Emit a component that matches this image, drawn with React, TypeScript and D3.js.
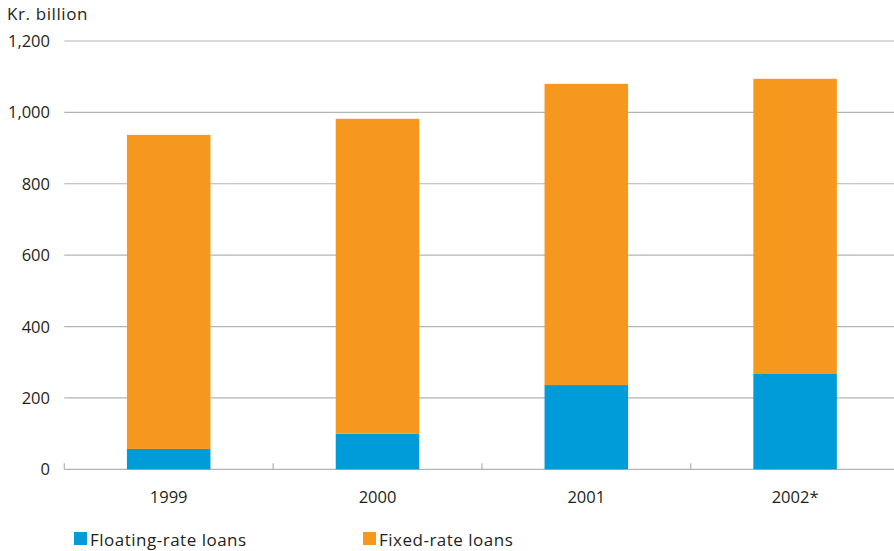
import React, { useEffect, useRef } from "react";
import * as d3 from "d3";

const years = ["1999", "2000", "2001", "2002*"];
const floatingRate = [57, 100, 236, 267];
const fixedRate = [880, 882, 844, 827];
const yTicks = [0, 200, 400, 600, 800, 1000, 1200];
const seriesNames = ["Floating-rate loans", "Fixed-rate loans"];
const seriesColors = ["#009bd9", "#f7981e"];

const W = 894;
const H = 551;
const FONT = "'Open Sans', 'Noto Sans', sans-serif";
const TEXT = "#231f20";

export default function App() {
  const ref = useRef<SVGSVGElement>(null);

  useEffect(() => {
    const svg = d3.select(ref.current);
    svg.selectAll("*").remove();

    const left = 64.3;
    const bandW = 208.8;
    const x = d3
      .scaleBand<string>()
      .domain(years)
      .range([left, left + bandW * years.length])
      .paddingInner(0.6)
      .paddingOuter(0.3);
    const y = d3.scaleLinear().domain([0, 1200]).range([469.3, 41]);

    // gridlines
    svg
      .append("g")
      .selectAll("line")
      .data(yTicks)
      .join("line")
      .attr("x1", left)
      .attr("x2", left + bandW * years.length)
      .attr("y1", (d) => y(d))
      .attr("y2", (d) => y(d))
      .attr("stroke", "#b3b3b3")
      .attr("stroke-width", 1.2);

    // y tick labels
    svg
      .append("g")
      .selectAll("text")
      .data(yTicks)
      .join("text")
      .attr("x", 50)
      .attr("y", (d) => y(d) + 6)
      .attr("text-anchor", "end")
      .attr("font-family", FONT)
      .attr("font-size", 16.5)
      .attr("fill", TEXT)
      .text((d) => d3.format(",")(d));

    // band boundary ticks on the baseline
    const bounds = d3.range(years.length + 1).map((i) => left + i * bandW);
    svg
      .append("g")
      .selectAll("line")
      .data(bounds)
      .join("line")
      .attr("x1", (d) => d)
      .attr("x2", (d) => d)
      .attr("y1", y(0) - 6)
      .attr("y2", y(0))
      .attr("stroke", "#b3b3b3")
      .attr("stroke-width", 1.2);

    // stacked bars
    const rows = years.map((yr, i) => ({ year: yr, floating: floatingRate[i], fixed: fixedRate[i] }));
    const stack = d3.stack<any>().keys(["floating", "fixed"])(rows);
    svg
      .append("g")
      .selectAll("g")
      .data(stack)
      .join("g")
      .attr("fill", (_, i) => seriesColors[i])
      .selectAll("rect")
      .data((s) => s)
      .join("rect")
      .attr("x", (d: any) => x(d.data.year)!)
      .attr("width", x.bandwidth())
      .attr("y", (d) => y(d[1]))
      .attr("height", (d) => y(d[0]) - y(d[1]));

    // category labels
    svg
      .append("g")
      .selectAll("text")
      .data(years)
      .join("text")
      .attr("x", (d) => x(d)! + x.bandwidth() / 2)
      .attr("y", 503)
      .attr("text-anchor", "middle")
      .attr("font-family", FONT)
      .attr("font-size", 16.5)
      .attr("fill", TEXT)
      .text((d) => d);

    // unit label
    svg
      .append("text")
      .attr("x", 7)
      .attr("y", 20)
      .attr("font-family", FONT)
      .attr("font-size", 17)
      .attr("letter-spacing", 0.6)
      .attr("fill", TEXT)
      .text("Kr. billion");

    // legend
    const legendX = [74, 363];
    const lg = svg
      .append("g")
      .selectAll("g")
      .data(seriesNames)
      .join("g")
      .attr("transform", (_, i) => `translate(${legendX[i]},532)`);
    lg.append("rect")
      .attr("width", 13)
      .attr("height", 13)
      .attr("fill", (_, i) => seriesColors[i]);
    lg.append("text")
      .attr("x", 16)
      .attr("y", 13.5)
      .attr("font-family", FONT)
      .attr("font-size", 17)
      .attr("letter-spacing", 0.5)
      .attr("fill", TEXT)
      .text((d) => d);
  }, []);

  return (
    <svg
      ref={ref}
      width={W}
      height={H}
      style={{ position: "absolute", left: 0, top: 0, background: "#fff" }}
    />
  );
}
